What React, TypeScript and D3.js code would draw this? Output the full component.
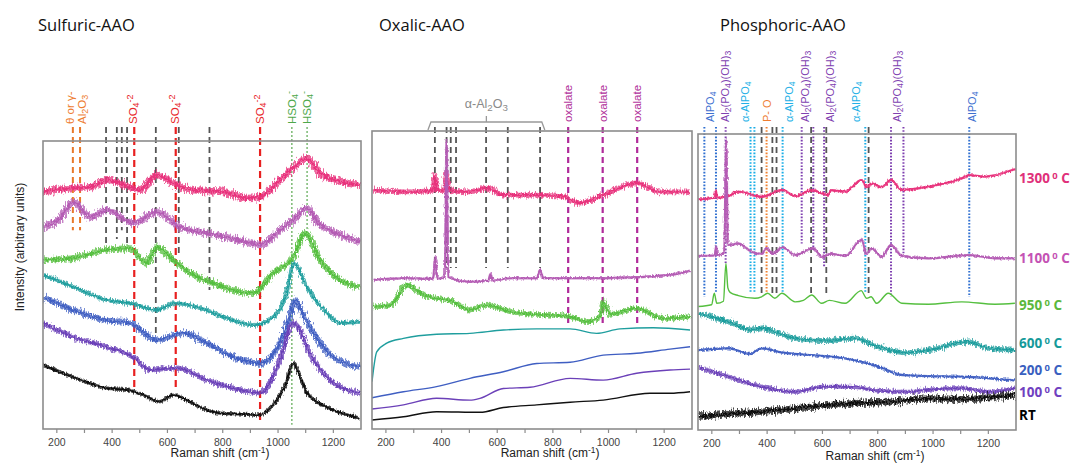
import React from 'react';
import * as d3 from 'd3';

type Pt = [number, number];

// ---------------- DATA ----------------
const temperatures = ['1300', '1100', '950', '600', '200', '100', 'RT'];
const panelTitles = ['Sulfuric-AAO', 'Oxalic-AAO', 'Phosphoric-AAO'];
const xTicks = [200, 300, 400, 500, 600, 700, 800, 900, 1000, 1100, 1200];
const xTickLabels = [200, 400, 600, 800, 1000, 1200];

// Sulfuric-AAO spectra (Raman shift, intensity a.u.)
const sulf1300: Pt[] = [[151,82.3],[260,83.7],[320,84],[380,86.5],[428,85.4],[501,83],[561,88.2],[621,85.4],[682,83],[802,82.3],[887,80.2],[935,80.6],[1007,86.5],[1060,91],[1104,94],[1150,89],[1176,87.5],[1296,84.7]];
const sulf1100: Pt[] = [[151,70.1],[210,73],[260,78.8],[320,73.6],[380,76],[477,71.5],[561,75.3],[645,70.1],[742,68],[862,65.6],[935,63.9],[1007,69],[1060,73],[1104,76.7],[1150,71],[1188,69],[1296,65]];
const sulf950: Pt[] = [[151,58.7],[260,59.4],[380,62.2],[465,62.8],[525,57.6],[561,63.2],[621,58.7],[682,54.2],[766,50.7],[862,47.6],[911,47.2],[983,54.2],[1055,59.7],[1098,68],[1152,58.7],[1224,51.7],[1296,49.3]];
const sulf600: Pt[] = [[151,53.5],[260,49.3],[380,44.8],[465,43.7],[561,41.3],[627,43.7],[718,42],[814,38.5],[911,36.1],[983,38.9],[1031,47.2],[1057,57.6],[1104,49.3],[1176,40.3],[1224,36.8],[1296,37.2]];
const sulf200: Pt[] = [[151,45.8],[260,41.3],[380,37.8],[465,36.8],[561,30.9],[657,33.3],[742,29.9],[838,25],[935,22.9],[1007,29.9],[1040,38],[1061,44.8],[1090,40],[1128,33.3],[1200,25],[1296,21.5]];
const sulf100: Pt[] = [[151,36.8],[260,31.9],[380,28.5],[477,25],[537,20.5],[634,21.2],[742,17],[838,14.2],[935,12.5],[1007,24],[1055,36.8],[1128,24],[1200,16],[1296,12.5]];
const sulfRT: Pt[] = [[151,22.2],[260,18],[380,14.2],[459,13.5],[520,11.5],[570,9.5],[621,11.8],[680,9.5],[718,7.6],[779,5.6],[860,5.2],[935,4.9],[971,7.3],[996,10],[1030,16],[1055,22.9],[1080,18],[1105,12.5],[1177,7.6],[1296,3.8]];

// Oxalic-AAO spectra
const oxa1300: Pt[] = [[155,80.2],[263,79.6],[368,80],[376,85],[384,80],[410,80],[418,86],[426,80],[502,79.6],[562,80.9],[622,78.5],[742,78.5],[838,78],[897,75.8],[981,78.5],[1101,82.6],[1185,79.6],[1293,79.6]];
const oxa1100: Pt[] = [[155,50],[263,50.6],[370,50.4],[377,57.8],[385,50.5],[412,51],[418,97],[424,51],[502,49.4],[568,49.8],[576,52],[584,49.8],[646,50.6],[742,50.6],[754,53.4],[766,50.6],[981,50.6],[1221,51.7],[1293,53.1]];
const oxa950: Pt[] = [[155,41],[215,41.5],[275,48.3],[334,45],[442,42.7],[502,39.9],[562,41.6],[646,39.4],[766,38.3],[862,37.7],[921,36],[969,37.7],[981,42.7],[1005,38.5],[1101,40.5],[1197,37.1],[1293,37.7]];
const oxa600: Pt[] = [[150,15.9],[167,25.9],[203,28.8],[263,30.4],[382,31.8],[502,32.1],[622,33.2],[742,33.6],[862,33.6],[957,32.1],[1041,33.6],[1161,34],[1293,33.2]];
const oxa200: Pt[] = [[150,10.5],[263,12.5],[382,14.2],[502,17],[622,19.2],[742,22],[862,22.4],[981,24.8],[1101,25.4],[1221,26.8],[1293,27.6]];
const oxa100: Pt[] = [[150,6.7],[263,8.1],[382,10.3],[502,9.7],[538,10.3],[622,13.6],[718,14],[862,17],[981,16.4],[1101,18.7],[1221,19.8],[1293,20.1]];
const oxaRT: Pt[] = [[150,3],[263,4.1],[382,5.8],[538,5.6],[622,7.2],[742,8.1],[862,9],[981,9.7],[1149,12],[1221,12],[1293,12.5]];

// Phosphoric-AAO spectra
const phos1300: Pt[] = [[151,77.9],[211,78.5],[215,81],[220,78.5],[260,79],[296,80.5],[380,78.8],[456,81.1],[501,79],[561,81],[621,79.4],[631,81],[682,80.5],[742,84.5],[760,82],[778,83.3],[814,82],[848,84.5],[887,81.1],[983,82.2],[1104,85],[1131,86.1],[1188,85.6],[1296,88.1]];
const phos1100: Pt[] = [[151,58.8],[211,59],[215,61.9],[220,59],[245,60],[252,98],[258,62.5],[296,63],[344,60.2],[380,59.5],[398,61.5],[420,59.5],[456,61.8],[501,59.1],[567,61.4],[597,58.5],[631,59.5],[682,58.8],[742,64.2],[760,59.5],[778,61.4],[814,58.5],[848,62.5],[887,58.8],[983,58],[1131,59.1],[1224,58],[1296,58]];
const phos950: Pt[] = [[151,41.7],[199,42.3],[209,46.2],[218,42.8],[242,43.5],[251,56.3],[258,48],[266,46.5],[296,45.4],[356,44.5],[380,45],[402,46.2],[428,44.5],[453,46.2],[501,43.3],[531,43.8],[561,45.6],[597,42.8],[625,43.8],[682,42.8],[740,47.1],[760,44.5],[776,45],[796,42.8],[838,46.2],[887,42.8],[983,42.5],[1104,43.3],[1224,42.5],[1296,42.8]];
const phos600: Pt[] = [[151,39.4],[260,36.6],[344,33.8],[380,34.5],[440,32.7],[501,31],[561,30.4],[621,30.2],[718,31],[802,28.1],[899,26.1],[983,27],[1128,29.8],[1200,27.6],[1296,27]];
const phos200: Pt[] = [[151,27],[260,27.6],[338,25.7],[380,27.6],[453,26.2],[561,25.3],[682,24.2],[802,21.4],[887,18.6],[983,18.2],[1104,18],[1200,17.5],[1296,16.7]];
const phos100: Pt[] = [[151,21.2],[260,18],[380,14.6],[501,12.9],[597,14.6],[706,14.6],[802,13.3],[923,12.9],[983,13.6],[1104,14.1],[1200,12.9],[1296,14.1]];
const phosRT: Pt[] = [[151,4.5],[260,5.4],[380,6.2],[501,7.3],[621,8.4],[742,9.2],[862,9.6],[983,10.7],[1104,10.4],[1224,11.2],[1296,11.8]];

// Reference band positions: [x, kind, lowest intensity reached]
type Marker = [number, string, number];
const sulfMarkers: Marker[] = [[258,'orange',69],[284,'orange',69],[378,'gray',64.6],[417,'gray',66],[435,'gray',69],[454,'gray',64.6],[480,'red',13.5],[558,'gray',33.3],[630,'red',13.5],[641,'gray',59.7],[752,'gray',48.3],[935,'red',2.4],[1050,'green',1.5],[1105,'green',65.6]];
const oxaMarkers: Marker[] = [[376,'gray',54],[418,'gray',54],[433,'gray',54],[452,'gray',54],[560,'gray',54],[638,'gray',54],[754,'gray',54],[855,'magenta',34.2],[979,'magenta',34.2],[1103,'magenta',34.2]];
const phosMarkers: Marker[] = [[173,'blue',45],[215,'blue',46.2],[250,'purple',56.3],[340,'cyan',46.2],[354,'cyan',46.2],[380,'gray',46.2],[398,'orange',46.2],[419,'gray',46.2],[434,'gray',46.2],[456,'cyan',46.2],[525,'purple',63],[559,'gray',46.2],[567,'purple',60.8],[606,'purple',55.2],[614,'gray',46.2],[755,'cyan',46.2],[767,'gray',46.2],[848,'purple',45],[893,'purple',59.7],[1131,'blue',45]];

// Band labels: [x, text, kind]
type BandLabel = [number, string, string];
const sulfLabels: BandLabel[] = [[246,'θ or γ-','orange'],[292,'Al_{2}O_{3}','orange'],[476,'SO_{4}^{-2}','red'],[628,'SO_{4}^{-2}','red'],[935,'SO_{4}^{-2}','red'],[1052,'HSO_{4}^{-}','green'],[1105,'HSO_{4}^{-}','green']];
const oxaLabels: BandLabel[] = [[855,'oxalate','magenta'],[979,'oxalate','magenta'],[1103,'oxalate','magenta']];
const phosLabels: BandLabel[] = [[193,'AlPO_{4}','blue'],[248,'Al_{2}(PO_{4})(OH)_{3}','purple'],[322,'α-AlPO_{4}','cyan'],[400,'P- O','orange'],[478,'α-AlPO_{4}','cyan'],[537,'Al_{2}(PO_{4})(OH)_{3}','purple'],[627,'Al_{2}(PO_{4})(OH)_{3}','purple'],[722,'α-AlPO_{4}','cyan'],[870,'Al_{2}(PO_{4})(OH)_{3}','purple'],[1141,'AlPO_{4}','blue']];
const alphaBracket = [351, 771];
const alphaLabel = 'α-Al_{2}O_{3}';

// Temperature labels: intensity level where each label sits on the right
const tempLabelLevels = [85.1, 58.1, 42.2, 29.4, 20.3, 12.8, 5.1];

const panelSeries: Pt[][][] = [
  [sulf1300, sulf1100, sulf950, sulf600, sulf200, sulf100, sulfRT],
  [oxa1300, oxa1100, oxa950, oxa600, oxa200, oxa100, oxaRT],
  [phos1300, phos1100, phos950, phos600, phos200, phos100, phosRT],
];
const panelMarkers = [sulfMarkers, oxaMarkers, phosMarkers];
const panelLabels = [sulfLabels, oxaLabels, phosLabels];

// ---------------- STYLE / LAYOUT ----------------
const W = 1072, H = 463;
const frames = [
  { left: 43, right: 361, top: 141, bottom: 429, titleX: 38 },
  { left: 372, right: 692, top: 131, bottom: 429, titleX: 379 },
  { left: 698, right: 1016, top: 134, bottom: 430, titleX: 720 },
];
const seriesColors = ['#e8327c', '#b45cb4', '#55bf3f', '#1f9e9e', '#3f5ec2', '#6b40b8', '#111111'];
const labelColors = ['#e0307a', '#c452b4', '#5cb83c', '#159a9a', '#3a5fc0', '#7040c0', '#000000'];
const noiseWidth = [
  [8, 8, 7, 5, 7, 6, 4],
  [6, 3, 6, 1.4, 1.4, 2, 2],
  [3, 3, 2, 6, 3, 5, 8],
];
const markerStyle: Record<string, { color: string; width: number; dash: string }> = {
  orange: { color: '#e8782a', width: 2, dash: '6,4' },
  gray: { color: '#555555', width: 1.8, dash: '6,4' },
  red: { color: '#e82020', width: 2.2, dash: '7,4' },
  green: { color: '#5aa850', width: 1.2, dash: '2,2' },
  magenta: { color: '#b02a9a', width: 2.2, dash: '6,4' },
};
const phosMarkerStyle: Record<string, { color: string; width: number; dash: string }> = {
  blue: { color: '#2f6fd0', width: 2, dash: '1.6,1.6' },
  purple: { color: '#7e3fb0', width: 2, dash: '1.6,1.6' },
  cyan: { color: '#19ade6', width: 2, dash: '1.6,1.6' },
  orange: { color: '#f08030', width: 2, dash: '1.6,1.6' },
  gray: { color: '#555555', width: 1.8, dash: '6,4' },
};
const labelColorMap: Record<string, string> = {
  orange: '#ee7d31', red: '#e8262a', green: '#4ea84a', magenta: '#b0309a',
  blue: '#3d6fd0', purple: '#8040b0', cyan: '#22b0e6',
};
const MARK_TOP = 127;
const FONT = "'Liberation Sans', Arial, sans-serif";

function rich(s: string) {
  const out: { t: string; k?: 'sub' | 'sup' }[] = [];
  const re = /([_^])\{([^}]*)\}/g;
  let last = 0; let m: RegExpExecArray | null;
  while ((m = re.exec(s))) {
    if (m.index > last) out.push({ t: s.slice(last, m.index) });
    out.push({ t: m[2], k: m[1] === '_' ? 'sub' : 'sup' });
    last = m.index + m[0].length;
  }
  if (last < s.length) out.push({ t: s.slice(last) });
  return out.map((p, i) =>
    p.k ? (
      <tspan key={i} baselineShift={p.k === 'sub' ? '-25%' : '45%'} fontSize="78%">{p.t}</tspan>
    ) : (
      <tspan key={i}>{p.t}</tspan>
    )
  );
}

function Panel({ idx }: { idx: number }) {
  const f = frames[idx];
  const x = d3.scaleLinear().domain([150, 1300]).range([f.left, f.right]);
  const y = d3.scaleLinear().domain([0, 100]).range([f.bottom, f.top]);
  const line = d3.line<Pt>().x((d) => x(d[0])).y((d) => y(d[1])).curve(d3.curveMonotoneX);
  const styles = idx === 2 ? phosMarkerStyle : markerStyle;
  const labelFont = idx === 2 ? 11 : 11.5;
  return (
    <g>
      <text x={f.titleX} y={31} fontFamily="'Open Sans', sans-serif" fontSize={16.5} fill="#111">{panelTitles[idx]}</text>
      <defs>
        <clipPath id={`clip${idx}`}>
          <rect x={f.left} y={f.top - 40} width={f.right - f.left} height={f.bottom - f.top + 40} />
        </clipPath>
      </defs>
      {/* markers */}
      {panelMarkers[idx].map((m, i) => {
        const st = styles[m[1]];
        return (
          <line key={'m' + i} x1={x(m[0])} x2={x(m[0])} y1={MARK_TOP} y2={y(m[2])}
            stroke={st.color} strokeWidth={st.width} strokeDasharray={st.dash} />
        );
      })}
      {/* spectra */}
      <g clipPath={`url(#clip${idx})`}>
        {panelSeries[idx].map((s, i) => {
          const w = noiseWidth[idx][i];
          const d = line(s) || '';
          return (
            <g key={'s' + i}>
              {w > 2 && (
                <path d={d} fill="none" stroke={seriesColors[i]} strokeWidth={w * 0.8}
                  strokeOpacity={0.75} filter={`url(#noise${Math.round(w)})`} strokeLinejoin="round" />
              )}
              <path d={d} fill="none" stroke={seriesColors[i]} strokeWidth={w > 2 ? Math.max(1.8, w * 0.35) : 1.4}
                filter={w > 2 ? `url(#noiseS${Math.round(w)})` : undefined} strokeLinejoin="round" />
            </g>
          );
        })}
      </g>
      {/* frame */}
      <rect x={f.left} y={f.top} width={f.right - f.left} height={f.bottom - f.top} fill="none" stroke="#8c8c8c" strokeWidth={1.6} />
      {/* x axis ticks */}
      {xTicks.map((t) => (
        <line key={'t' + t} x1={x(t)} x2={x(t)} y1={f.bottom} y2={f.bottom + 4} stroke="#8c8c8c" strokeWidth={1.2} />
      ))}
      {xTickLabels.map((t) => (
        <text key={'l' + t} x={x(t)} y={f.bottom + 17} textAnchor="middle" fontFamily={FONT} fontSize={10.5} fill="#444">{t}</text>
      ))}
      <text x={x(790)} y={f.bottom + (idx === 2 ? 30 : 28)} textAnchor="middle" fontFamily={FONT} fontSize={12} fill="#222">
        Raman shift (cm<tspan baselineShift="45%" fontSize="70%">-1</tspan>)
      </text>
      {/* band labels */}
      {panelLabels[idx].map((l, i) => (
        <text key={'b' + i} transform={`translate(${x(l[0])},${idx === 0 ? 124 : 122}) rotate(-90)`} dy="0.35em"
          fontFamily={FONT} fontSize={labelFont} fill={labelColorMap[l[2]]}>{rich(l[1])}</text>
      ))}
      {idx === 1 && (
        <g>
          <path d={`M${x(alphaBracket[0])},130 L${x(alphaBracket[0]) + 3},122 L${x(alphaBracket[1]) - 3},122 L${x(alphaBracket[1])},130 M${(x(alphaBracket[0]) + x(alphaBracket[1])) / 2},122 L${(x(alphaBracket[0]) + x(alphaBracket[1])) / 2},116`}
            fill="none" stroke="#999" strokeWidth={1.3} />
          <text x={(x(alphaBracket[0]) + x(alphaBracket[1])) / 2} y={108} textAnchor="middle" fontFamily={FONT} fontSize={12.5} fill="#8a8a8a">{rich(alphaLabel)}</text>
        </g>
      )}
      {idx === 2 && temperatures.map((t, i) => (
        <text key={'T' + i} x={f.right + 3} y={y(tempLabelLevels[i])} dy="0.35em" fontFamily="'Open Sans', sans-serif" fontWeight={700} fontSize={13.5} fill={labelColors[i]}>
          {t === 'RT' ? 'RT' : <>{t}<tspan fontSize="70%" baselineShift="50%"> 0</tspan> C</>}
        </text>
      ))}
    </g>
  );
}

const noiseLevels = [3, 4, 5, 6, 7, 8];

export default function App() {
  return (
    <svg width={W} height={H} style={{ position: 'absolute', left: 0, top: 0, background: '#fff' }}>
      <defs>
        {noiseLevels.map((n) => (
          <filter key={n} id={`noise${n}`} x="-2%" y="-60%" width="104%" height="220%">
            <feTurbulence type="fractalNoise" baseFrequency="0.9 0.2" numOctaves={2} seed={n} result="t" />
            <feDisplacementMap in="SourceGraphic" in2="t" scale={n * 1.3} xChannelSelector="R" yChannelSelector="G" />
          </filter>
        ))}
        {noiseLevels.map((n) => (
          <filter key={'s' + n} id={`noiseS${n}`} x="-2%" y="-60%" width="104%" height="220%">
            <feTurbulence type="fractalNoise" baseFrequency="0.7 0.3" numOctaves={2} seed={n + 11} result="t" />
            <feDisplacementMap in="SourceGraphic" in2="t" scale={n * 1.1} xChannelSelector="R" yChannelSelector="G" />
          </filter>
        ))}
      </defs>
      <rect x={0} y={0} width={W} height={H} fill="#fff" />
      <text transform="translate(20,247) rotate(-90)" textAnchor="middle" dy="0.35em" fontFamily={FONT} fontSize={12} fill="#222">Intensity (arbitrary units)</text>
      {[0, 1, 2].map((i) => <Panel key={i} idx={i} />)}
    </svg>
  );
}
